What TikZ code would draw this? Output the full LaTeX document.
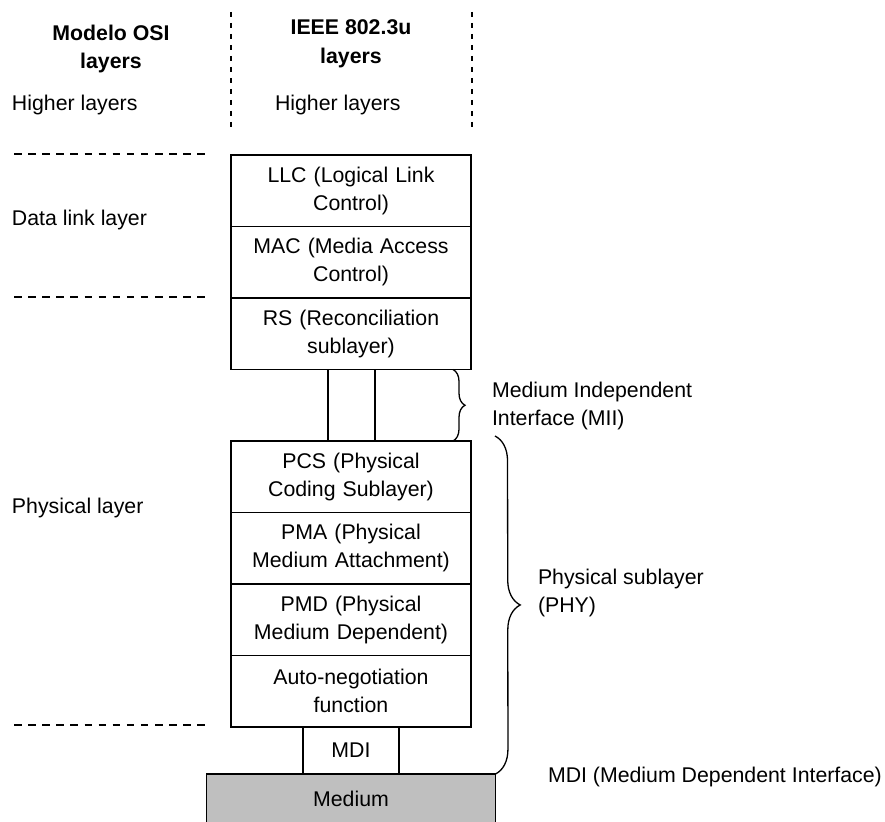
\documentclass[tikz,border=0pt]{standalone}
\usepackage{fontspec}
\setmainfont{Liberation Sans}
\usetikzlibrary{positioning,decorations.pathreplacing}

\begin{document}
\begin{tikzpicture}[
        x=1pt, y=-1pt,
        every node/.style={font=\fontsize{21.3}{28}\selectfont, inner sep=0pt, outer sep=0pt},
        heading/.style={font=\fontsize{21.3}{28.5}\selectfont\bfseries, align=center},
        layerbox/.style={draw=black, line width=1.6pt, minimum width=240pt, minimum height=71.5pt, text width=236pt, align=center},
        mdibox/.style={draw=black, line width=1.6pt, minimum width=96pt, minimum height=47pt},
        mediumbox/.style={draw=black, line width=1.6pt, fill=black!25, minimum width=289pt, minimum height=50pt},
        osisep/.style={line width=1.5pt, dash pattern=on 7.5pt off 6.6pt},
        colsep/.style={line width=1.5pt, dash pattern=on 5pt off 6pt},
        miibrace/.style={decorate, decoration={brace, amplitude=12pt}, line width=1.3pt},
        phybrace/.style={decorate, decoration={brace, amplitude=25pt}, line width=1.3pt},
]
        \useasboundingbox (0,0) rectangle (885,821);

        % column heads
        \node[heading] (osihead) at (111,49) {Modelo OSI\\layers};
        \node[heading] (ieeehead) at (351,44) {IEEE 802.3u\\layers};
        \draw[colsep] (231,12) -- (231,130);
        \draw[colsep] (472,12) -- (472,130);

        \node[anchor=west] (osihigher) at (12,105) {Higher layers};
        \node[anchor=west] (ieeehigher) at (275,105) {Higher layers};
        \node[anchor=west] (datalink) at (12,220) {Data link layer};
        \node[anchor=west] (physical) at (12,508) {Physical layer};

        \draw[osisep] (14,154) -- (205,154);
        \draw[osisep] (14,297) -- (205,297);
        \draw[osisep] (14,725) -- (205,725);

        % 802.3u stack
        \node[layerbox] (llc) at (351,190.75) {LLC (Logical Link\\Control)};
        \node[layerbox] (mac) [below=0pt of llc] {MAC (Media Access\\Control)};
        \node[layerbox] (rs) [below=0pt of mac] {RS (Reconciliation\\sublayer)};
        \node[layerbox] (pcs) [below=71.5pt of rs] {PCS (Physical\\Coding Sublayer)};
        \node[layerbox] (pma) [below=0pt of pcs] {PMA (Physical\\Medium Attachment)};
        \node[layerbox] (pmd) [below=0pt of pma] {PMD (Physical\\Medium Dependent)};
        \node[layerbox] (autoneg) [below=0pt of pmd] {Auto-negotiation\\function};
        \node[mdibox] (mdi) [below=0pt of autoneg] {MDI};
        \node[mediumbox] (medium) [below=0pt of mdi] {Medium};

        \draw[line width=1.6pt] ([xshift=-23pt]rs.south) -- ([xshift=-23pt]pcs.north);
        \draw[line width=1.6pt] ([xshift=24pt]rs.south) -- ([xshift=24pt]pcs.north);

        % braces and their labels
        \draw[miibrace] ([xshift=-18pt]rs.south east) -- ([xshift=-18pt]pcs.north east);
        \draw[phybrace] ([xshift=24pt,yshift=5pt]pcs.north east) -- (medium.north east);

        \node[anchor=west, align=left] (miilabel) at (492,406) {Medium Independent\\Interface (MII)};
        \node[anchor=west, align=left] (phylabel) at (538,593) {Physical sublayer\\(PHY)};
        \node[anchor=west] (mdilabel) at (548,777) {MDI (Medium Dependent Interface)};
\end{tikzpicture}
\end{document}
